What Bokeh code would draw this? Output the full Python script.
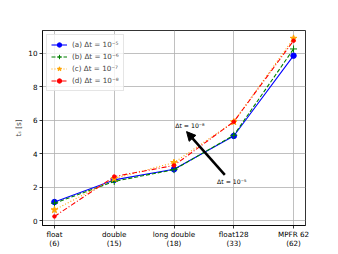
from bokeh.plotting import figure
from bokeh.models import FixedTicker, Legend, Label, Arrow, NormalHead, Range1d, LegendItem
from bokeh.embed import file_html
from bokeh.resources import INLINE

categories = ["float\n(6)", "double\n(15)", "long double\n(18)", "float128\n(33)", "MPFR 62\n(62)"]
xpos = [0, 1, 2, 3, 4]
series_a = [1.12, 2.44, 3.07, 5.06, 9.85]
series_b = [1.05, 2.35, 3.05, 5.10, 10.25]
series_c = [0.65, 2.52, 3.47, 5.90, 10.88]
series_d = [0.26, 2.64, 3.30, 5.91, 10.74]
labels = ["(a) Δt = 10⁻⁵", "(b) Δt = 10⁻⁶", "(c) Δt = 10⁻⁷", "(d) Δt = 10⁻⁸"]
yticks = [0, 2, 4, 6, 8, 10]

FONT = "DejaVu Sans"
p = figure(output_backend="svg", toolbar_location=None,
           width=330, height=254,
           x_range=Range1d(-0.2, 4.2), y_range=Range1d(-0.28, 11.35),
           min_border_left=42, min_border_top=30, min_border_right=25, min_border_bottom=29)
p.outline_line_color = "black"
p.outline_line_width = 0.8
p.background_fill_color = "white"
p.border_fill_color = "white"

for ax in (p.xaxis[0], p.yaxis[0]):
    ax.axis_line_color = "black"
    ax.axis_line_width = 0.8
    ax.major_tick_line_color = "black"
    ax.major_tick_line_width = 0.8
    ax.major_tick_out = 3
    ax.major_tick_in = 0
    ax.minor_tick_line_color = None
    ax.major_label_text_font = FONT
    ax.major_label_text_font_size = "7.2px"
    ax.major_label_text_color = "black"

p.xaxis.ticker = FixedTicker(ticks=xpos)
p.xaxis.major_label_overrides = {x: c for x, c in zip(xpos, categories)}
p.xaxis.major_label_standoff = 1
p.xaxis.major_label_text_line_height = 1.0
p.xaxis.axis_label = None
p.yaxis.ticker = FixedTicker(ticks=yticks)
p.yaxis.major_label_standoff = 2
p.yaxis.axis_label = "tₛ [s]"
p.yaxis.axis_label_text_font = FONT
p.yaxis.axis_label_text_font_style = "normal"
p.yaxis.axis_label_text_font_size = "7.2px"
p.yaxis.axis_label_standoff = 2

p.grid.grid_line_color = "#b0b0b0"
p.grid.grid_line_width = 0.8
p.xgrid.ticker = FixedTicker(ticks=xpos)
p.ygrid.ticker = FixedTicker(ticks=yticks)

items = []
specs = [
    (series_a, "#0000ff", "solid", "circle", 5.5),
    (series_b, "#008000", "4 2", "cross", 7),
    (series_c, "#ffa500", "1 2", "star", 7),
    (series_d, "#ff0000", "5 2 1 2", "circle", 3.5),
]
for (ys, col, dash, mk, sz), lab in zip(specs, labels):
    r1 = p.line(xpos, ys, line_color=col, line_width=1.1, line_dash=dash)
    r2 = p.scatter(xpos, ys, marker=mk, size=sz, fill_color=col, line_color=col, line_width=1)
    items.append(LegendItem(label=lab, renderers=[r1, r2]))

legend = Legend(items=items, location="top_left")
legend.label_text_font = FONT
legend.label_text_font_size = "7.2px"
legend.glyph_width = 16
legend.glyph_height = 11
legend.label_height = 11
legend.spacing = 1
legend.padding = 4
legend.margin = 4
legend.label_standoff = 5
legend.border_line_color = "#cccccc"
legend.border_line_width = 0.8
legend.background_fill_alpha = 0.8
p.add_layout(legend, "center")

# annotation
arrow_start = (2.85, 2.74)
arrow_end = (2.21, 5.32)
p.add_layout(Arrow(end=NormalHead(size=9, fill_color="black", line_color="black"),
                   x_start=arrow_start[0], y_start=arrow_start[1],
                   x_end=arrow_end[0], y_end=arrow_end[1],
                   line_color="black", line_width=2.5))
p.add_layout(Label(x=2.02, y=5.71, text="Δt = 10⁻⁸", text_font=FONT, text_font_size="6.2px",
                   text_baseline="middle", text_color="black"))
p.add_layout(Label(x=2.72, y=2.32, text="Δt = 10⁻⁵", text_font=FONT, text_font_size="6.2px",
                   text_baseline="middle", text_color="black"))

open("out.html", "w").write(file_html(p, INLINE))
